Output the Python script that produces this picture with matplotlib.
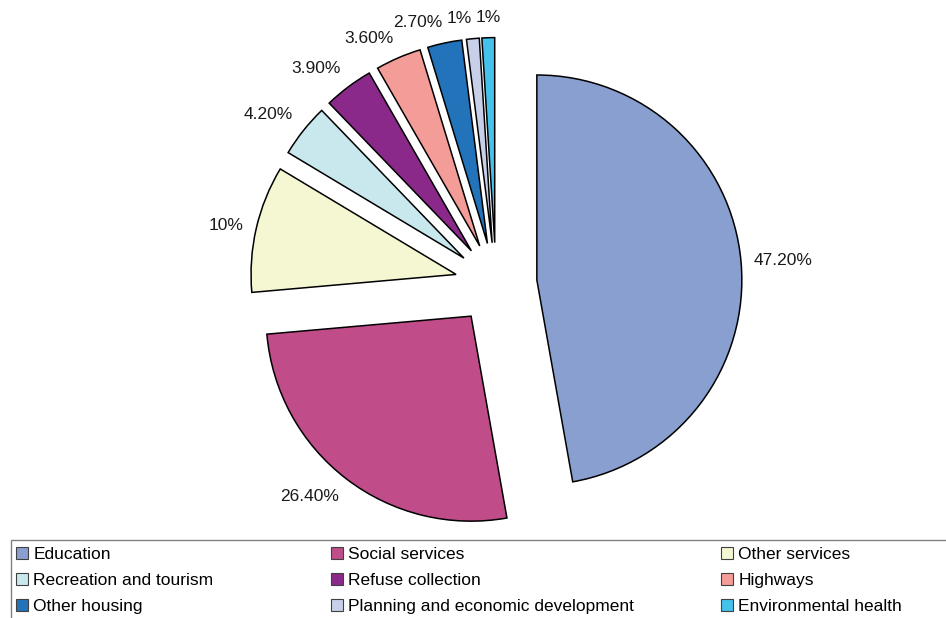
import matplotlib
matplotlib.use("Agg")
from matplotlib import pyplot as plt
from matplotlib.patches import Patch, Rectangle
import numpy as np

plt.rcParams['font.family'] = ['Liberation Sans', 'DejaVu Sans']

# data
categories = ["Education", "Social services", "Other services",
              "Recreation and tourism", "Refuse collection", "Highways",
              "Other housing", "Planning and economic development",
              "Environmental health"]
shares = [47.2, 26.4, 10, 4.2, 3.9, 3.6, 2.7, 1, 1]
colors = ["#889fd0", "#c04c8a", "#f5f7d3", "#c8e8ee", "#8b298b",
          "#f49c98", "#2273ba", "#c8d0e9", "#45c2ec"]


def fmt_pct(p):
    if abs(p - round(p)) < 0.05:
        return "%d%%" % round(p)
    return "%.2f%%" % p


W, H = 946, 618
fig = plt.figure(figsize=(W / 100, H / 100), dpi=100)
ax = fig.add_axes([0, 0, 1, 1])

r = 205
# explode is in data units here (pixels), 0.2 of the radius
wedges, texts, autotexts = ax.pie(
    shares, colors=colors, radius=r, center=(496, H - 283.6),
    startangle=90, counterclock=False, explode=[0.2 * r] * len(shares),
    autopct=fmt_pct, pctdistance=1.15,
    wedgeprops=dict(edgecolor="black", linewidth=1.1),
    textprops=dict(fontsize=12.5, color="#1a1a1a"))

# Excel style outside labels: the corner of the text box facing the slice
# sits a small gap outside the rim, on the slice's middle direction
gap = 13
for w, t in zip(wedges, autotexts):
    mid = np.deg2rad((w.theta1 + w.theta2) / 2)
    dx, dy = np.cos(mid), np.sin(mid)
    cx, cy = w.center
    t.set_position((cx + (r + gap) * dx, cy + (r + gap) * dy))
    if abs(dx) < 0.05:
        t.set_ha("center")
    else:
        t.set_ha("left" if dx > 0 else "right")
    if abs(dy) < 0.4:
        t.set_va("center")
    else:
        t.set_va("bottom" if dy > 0 else "top")

ax.set_xlim(0, W)
ax.set_ylim(0, H)
ax.set_aspect("equal")
ax.axis("off")

# legend frame (runs off the right and bottom edges like the original)
ax.add_patch(Rectangle((10.5, -10), W, H - 540 + 10, facecolor="none",
                       edgecolor="#808080", linewidth=1.0, clip_on=False))

handles = [Patch(facecolor=c, edgecolor="#404040", linewidth=0.8) for c in colors]
col_x = [16, 331, 721]
for i, x in enumerate(col_x):
    fig.legend(handles=handles[i::3], labels=categories[i::3],
               loc="upper left", bbox_to_anchor=(x / W, (H - 547) / H),
               frameon=False, fontsize=12.5, borderpad=0, borderaxespad=0,
               handlelength=0.7, handleheight=0.7, handletextpad=0.3,
               labelspacing=0.63)

plt.savefig("out.png", dpi=100)
